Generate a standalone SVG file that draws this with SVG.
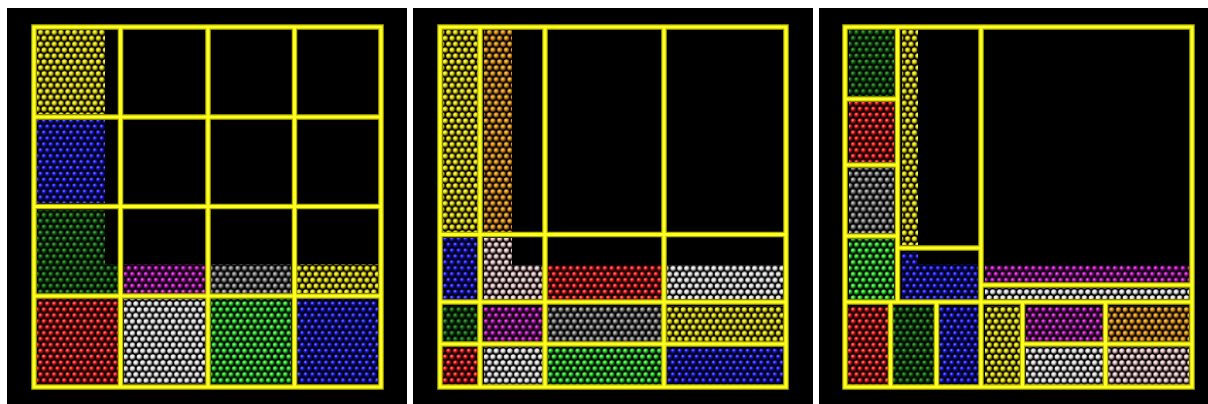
<svg xmlns="http://www.w3.org/2000/svg" xmlns:xlink="http://www.w3.org/1999/xlink" width="1208" height="404" viewBox="0 0 1208 404">
<defs>
<style>
.bg{fill:#000}
.lo{fill:none;stroke:#b0b000;stroke-width:5.5;stroke-linecap:square}
.hi{fill:none;stroke:#ffff20;stroke-width:3.2;stroke-linecap:square}
.Y{fill:url(#pY)}.B{fill:url(#pB)}.G{fill:url(#pG)}.D{fill:url(#pD)}.R{fill:url(#pR)}.W{fill:url(#pW)}.M{fill:url(#pM)}.S{fill:url(#pS)}.O{fill:url(#pO)}.P{fill:url(#pP)}
</style>
<radialGradient id="gY" cx="0.38" cy="0.35" r="0.65"><stop offset="0" stop-color="#ffffc0"/><stop offset="0.45" stop-color="#e8e000"/><stop offset="1" stop-color="#504800"/></radialGradient>
<radialGradient id="gB" cx="0.38" cy="0.35" r="0.65"><stop offset="0" stop-color="#a0a0ff"/><stop offset="0.4" stop-color="#1818e0"/><stop offset="1" stop-color="#000040"/></radialGradient>
<radialGradient id="gG" cx="0.38" cy="0.35" r="0.65"><stop offset="0" stop-color="#c0ffc0"/><stop offset="0.45" stop-color="#20d020"/><stop offset="1" stop-color="#003000"/></radialGradient>
<radialGradient id="gD" cx="0.38" cy="0.35" r="0.65"><stop offset="0" stop-color="#80c080"/><stop offset="0.4" stop-color="#106810"/><stop offset="1" stop-color="#001800"/></radialGradient>
<radialGradient id="gR" cx="0.38" cy="0.35" r="0.65"><stop offset="0" stop-color="#ffb0b0"/><stop offset="0.45" stop-color="#e01010"/><stop offset="1" stop-color="#380000"/></radialGradient>
<radialGradient id="gW" cx="0.38" cy="0.35" r="0.65"><stop offset="0" stop-color="#ffffff"/><stop offset="0.5" stop-color="#e0e0e0"/><stop offset="1" stop-color="#404040"/></radialGradient>
<radialGradient id="gM" cx="0.38" cy="0.35" r="0.65"><stop offset="0" stop-color="#ffa0ff"/><stop offset="0.4" stop-color="#b010b0"/><stop offset="1" stop-color="#280028"/></radialGradient>
<radialGradient id="gS" cx="0.38" cy="0.35" r="0.65"><stop offset="0" stop-color="#f0f0f0"/><stop offset="0.4" stop-color="#888888"/><stop offset="1" stop-color="#181818"/></radialGradient>
<radialGradient id="gO" cx="0.38" cy="0.35" r="0.65"><stop offset="0" stop-color="#ffe0a0"/><stop offset="0.45" stop-color="#e09010"/><stop offset="1" stop-color="#402800"/></radialGradient>
<radialGradient id="gP" cx="0.38" cy="0.35" r="0.65"><stop offset="0" stop-color="#ffffff"/><stop offset="0.45" stop-color="#e8c8cc"/><stop offset="1" stop-color="#503838"/></radialGradient>
<pattern id="pY" patternUnits="userSpaceOnUse" width="6.8" height="11.8"><circle cx="3.4" cy="2.95" r="2.8" fill="url(#gY)"/><circle cx="0" cy="8.85" r="2.8" fill="url(#gY)"/><circle cx="6.8" cy="8.85" r="2.8" fill="url(#gY)"/></pattern>
<pattern id="pB" patternUnits="userSpaceOnUse" width="6.8" height="11.8"><circle cx="3.4" cy="2.95" r="2.8" fill="url(#gB)"/><circle cx="0" cy="8.85" r="2.8" fill="url(#gB)"/><circle cx="6.8" cy="8.85" r="2.8" fill="url(#gB)"/></pattern>
<pattern id="pG" patternUnits="userSpaceOnUse" width="6.8" height="11.8"><circle cx="3.4" cy="2.95" r="2.8" fill="url(#gG)"/><circle cx="0" cy="8.85" r="2.8" fill="url(#gG)"/><circle cx="6.8" cy="8.85" r="2.8" fill="url(#gG)"/></pattern>
<pattern id="pD" patternUnits="userSpaceOnUse" width="6.8" height="11.8"><circle cx="3.4" cy="2.95" r="2.8" fill="url(#gD)"/><circle cx="0" cy="8.85" r="2.8" fill="url(#gD)"/><circle cx="6.8" cy="8.85" r="2.8" fill="url(#gD)"/></pattern>
<pattern id="pR" patternUnits="userSpaceOnUse" width="6.8" height="11.8"><circle cx="3.4" cy="2.95" r="2.8" fill="url(#gR)"/><circle cx="0" cy="8.85" r="2.8" fill="url(#gR)"/><circle cx="6.8" cy="8.85" r="2.8" fill="url(#gR)"/></pattern>
<pattern id="pW" patternUnits="userSpaceOnUse" width="6.8" height="11.8"><circle cx="3.4" cy="2.95" r="2.8" fill="url(#gW)"/><circle cx="0" cy="8.85" r="2.8" fill="url(#gW)"/><circle cx="6.8" cy="8.85" r="2.8" fill="url(#gW)"/></pattern>
<pattern id="pM" patternUnits="userSpaceOnUse" width="6.8" height="11.8"><circle cx="3.4" cy="2.95" r="2.8" fill="url(#gM)"/><circle cx="0" cy="8.85" r="2.8" fill="url(#gM)"/><circle cx="6.8" cy="8.85" r="2.8" fill="url(#gM)"/></pattern>
<pattern id="pS" patternUnits="userSpaceOnUse" width="6.8" height="11.8"><circle cx="3.4" cy="2.95" r="2.8" fill="url(#gS)"/><circle cx="0" cy="8.85" r="2.8" fill="url(#gS)"/><circle cx="6.8" cy="8.85" r="2.8" fill="url(#gS)"/></pattern>
<pattern id="pO" patternUnits="userSpaceOnUse" width="6.8" height="11.8"><circle cx="3.4" cy="2.95" r="2.8" fill="url(#gO)"/><circle cx="0" cy="8.85" r="2.8" fill="url(#gO)"/><circle cx="6.8" cy="8.85" r="2.8" fill="url(#gO)"/></pattern>
<pattern id="pP" patternUnits="userSpaceOnUse" width="6.8" height="11.8"><circle cx="3.4" cy="2.95" r="2.8" fill="url(#gP)"/><circle cx="0" cy="8.85" r="2.8" fill="url(#gP)"/><circle cx="6.8" cy="8.85" r="2.8" fill="url(#gP)"/></pattern>
<path id="L1" d="M34,27V387M120.5,27V387M208,27V387M294.5,27V387M381,27V387M34,27H381M34,117H381M34,206.5H381M34,296H381M34,387H381"/>
<path id="L2" d="M440,27V387M480,27V387M545,27V387M664,27V387M786,27V387M440,27H786M440,234.5H786M440,302H786M440,344H786M440,387H786"/>
<path id="L3" d="M845,27V387M1192,27V387M845,27H1192M845,387H1192M897.5,27V302M981,27V387M845,99H897.5M845,165H897.5M845,236H897.5M897.5,248H981M981,285H1192M845,302H1192M890.5,302V387M936.5,302V387M1022.5,302V387M1105.5,302V387M1022.5,344H1192"/>
</defs>
<rect width="1208" height="404" fill="#fff"/>
<g id="panel1">
<rect class="bg" x="7" y="8" width="400" height="396"/>
<rect class="Y" x="37" y="30" width="68" height="84"/>
<rect class="B" x="37" y="120" width="68" height="83"/>
<path class="D" d="M37,210H105V264H118V293H37Z"/>
<rect class="M" x="124" y="264" width="81" height="29"/>
<rect class="S" x="211" y="264" width="80" height="29"/>
<rect class="Y" x="297" y="264" width="81" height="29"/>
<rect class="R" x="37" y="299" width="81" height="85"/>
<rect class="W" x="124" y="299" width="81" height="85"/>
<rect class="G" x="211" y="299" width="80" height="85"/>
<rect class="B" x="297" y="299" width="81" height="85"/>
</g>
<g id="panel2">
<rect class="bg" x="413" y="8" width="400" height="396"/>
<rect class="Y" x="443" y="30" width="35" height="202"/>
<rect class="O" x="484" y="30" width="28" height="202"/>
<rect class="B" x="443" y="238" width="35" height="61"/>
<path class="P" d="M484,238H512V265H543V299H484Z"/>
<rect class="R" x="548" y="265" width="114" height="34"/>
<rect class="W" x="667" y="265" width="116" height="34"/>
<rect class="D" x="443" y="306" width="35" height="36"/>
<rect class="M" x="484" y="306" width="59" height="36"/>
<rect class="S" x="548" y="306" width="114" height="36"/>
<rect class="Y" x="667" y="306" width="116" height="36"/>
<rect class="R" x="443" y="347" width="35" height="38"/>
<rect class="W" x="484" y="347" width="59" height="38"/>
<rect class="G" x="548" y="347" width="114" height="38"/>
<rect class="B" x="667" y="347" width="116" height="38"/>
</g>
<g id="panel3">
<rect class="bg" x="819" y="8" width="389" height="396"/>
<rect class="D" x="849" y="30" width="45" height="66"/>
<rect class="R" x="849" y="102" width="45" height="60"/>
<rect class="S" x="849" y="168" width="45" height="65"/>
<rect class="G" x="849" y="239" width="45" height="60"/>
<rect class="Y" x="902" y="30" width="16" height="215"/>
<path class="B" d="M902,252H918V264H978V299H902Z"/>
<rect class="M" x="985" y="265" width="204" height="17"/>
<rect class="W" x="985" y="288" width="204" height="11"/>
<rect class="R" x="848" y="306" width="40" height="79"/>
<rect class="D" x="893" y="306" width="41" height="79"/>
<rect class="B" x="939" y="306" width="40" height="79"/>
<rect class="Y" x="985" y="306" width="35" height="79"/>
<rect class="M" x="1026" y="306" width="77" height="35"/>
<rect class="O" x="1108" y="306" width="81" height="35"/>
<rect class="W" x="1026" y="347" width="77" height="38"/>
<rect class="P" x="1108" y="347" width="81" height="38"/>
</g>
<g id="connectors">
<use xlink:href="#L1" class="lo"/><use xlink:href="#L1" class="hi"/>
<use xlink:href="#L2" class="lo"/><use xlink:href="#L2" class="hi"/>
<use xlink:href="#L3" class="lo"/><use xlink:href="#L3" class="hi"/>
</g>
</svg>
